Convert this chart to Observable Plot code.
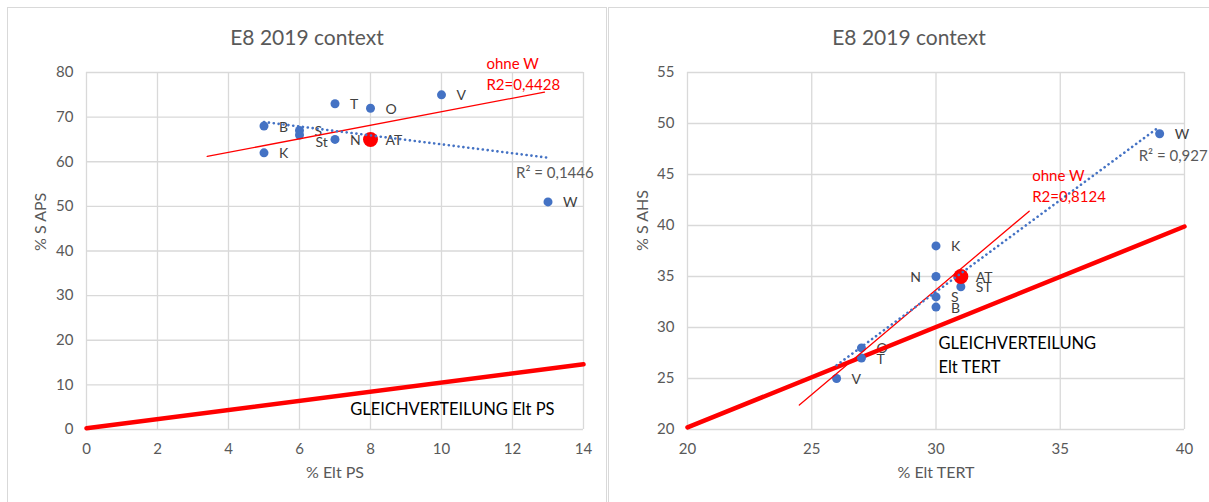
<!DOCTYPE html>
<html><head><meta charset="utf-8">
<script src="https://cdn.jsdelivr.net/npm/d3@7"></script>
<script src="https://cdn.jsdelivr.net/npm/@observablehq/plot@0.6"></script>
<style>
body{margin:0;background:#fff;font-family:Lato,sans-serif;}
#page{position:relative;width:1209px;height:502px;overflow:hidden;background:#fff;}
.panel{position:absolute;box-sizing:border-box;border:1px solid #d9d9d9;}
.title{position:absolute;text-align:center;color:#595959;font-size:21px;line-height:24px;white-space:nowrap;}
.chart{position:absolute;}
</style></head><body><div id="page"></div>
<script>
// ---------- Left chart data: % Elt PS vs % S APS ----------
const namesPS = ["B","K","S","St","T","N","O","AT","V","W"];
const eltPS   = [5, 5, 6, 6, 7, 7, 8, 8, 10, 13];
const sAPS    = [68, 62, 67, 66, 73, 65, 72, 65, 75, 51];
const trendAllPS_x = [5, 13.0];      // blue dotted trend, all points
const trendAllPS_y = [68.9, 60.9];
const trendOhnePS_x = [3.4, 12.9];   // red thin trend, without W
const trendOhnePS_y = [61.2, 75.6];
const gleichPS_x = [0, 14];          // thick red equal-distribution line
const gleichPS_y = [0.3, 14.6];
const xTicksPS = [0, 2, 4, 6, 8, 10, 12, 14];
const yTicksPS = [0, 10, 20, 30, 40, 50, 60, 70, 80];

// ---------- Right chart data: % Elt TERT vs % S AHS ----------
const namesTERT = ["W","K","N","AT","ST","S","B","O","T","V"];
const eltTERT   = [39, 30, 30, 31, 31, 30, 30, 27, 27, 26];
const sAHS      = [49, 38, 35, 35, 34, 33, 32, 28, 27, 25];
const trendAllT_x = [26, 39];
const trendAllT_y = [26.3, 49.7];
const trendOhneT_x = [24.5, 33.75];
const trendOhneT_y = [22.4, 41.4];
const gleichT_x = [20, 40];
const gleichT_y = [20.2, 39.9];
const xTicksT = [20, 25, 30, 35, 40];
const yTicksT = [20, 25, 30, 35, 40, 45, 50, 55];

const title = "E8 2019 context";
const highlight = "AT";

const page = document.getElementById("page");
function addDiv(cls, css, html) {
  const d = document.createElement("div");
  d.className = cls;
  Object.assign(d.style, css);
  if (html) d.textContent = html;
  page.appendChild(d);
  return d;
}

function build(o) {
  const data = o.names.map((n, i) => ({name: n, x: o.xs[i], y: o.ys[i]}));
  const pts = (xs, ys) => xs.map((x, i) => ({x, y: ys[i]}));
  const all = pts(o.allX, o.allY), ohne = pts(o.ohneX, o.ohneY), gl = pts(o.glX, o.glY);
  const grey = "#595959";
  return Plot.plot({
    width: o.width, height: 452,
    marginLeft: o.mL, marginRight: o.mR, marginTop: 22, marginBottom: 73,
    style: {fontFamily: "Lato, sans-serif", fontSize: "15px", color: grey, background: "transparent", overflow: "visible"},
    x: {domain: o.xDomain},
    y: {domain: o.yDomain},
    marks: [
      Plot.gridX({ticks: o.xTicks, stroke: "#d9d9d9", strokeOpacity: 1, strokeWidth: 1.3}),
      Plot.gridY({ticks: o.yTicks, stroke: "#d9d9d9", strokeOpacity: 1, strokeWidth: 1.3}),
      Plot.axisX({ticks: o.xTicks, tickSize: 0, tickPadding: 14, label: null, fill: grey, fontSize: 15}),
      Plot.axisY({ticks: o.yTicks, tickSize: 0, tickPadding: 13, label: null, fill: grey, fontSize: 15}),
      Plot.text([o.yLabel], {text: d => d, frameAnchor: "left", dx: o.yLabelDx, rotate: -90, fill: grey, fontSize: 16}),
      Plot.text([o.xLabel], {text: d => d, frameAnchor: "bottom", dy: 48, fill: grey, fontSize: 16}),
      // point labels
      Plot.text(data.filter(d => !o.leftLabels.includes(d.name) && !o.lowLabels.includes(d.name)),
        {x: "x", y: "y", text: "name", textAnchor: "start", dx: 15, dy: 1, fill: "#404040", fontSize: 14}),
      Plot.text(data.filter(d => o.leftLabels.includes(d.name)),
        {x: "x", y: "y", text: "name", textAnchor: "end", dx: -15, dy: 1, fill: "#404040", fontSize: 14}),
      Plot.text(data.filter(d => o.lowLabels.includes(d.name)),
        {x: "x", y: "y", text: "name", textAnchor: "start", dx: 16, dy: 8, fill: "#404040", fontSize: 14}),
      // equal distribution line
      Plot.line(gl, {x: "x", y: "y", stroke: "#ff0000", strokeWidth: 4.5}),
      Plot.text([o.glText], {text: d => d, frameAnchor: o.glAnchor, textAnchor: o.glTextAnchor, lineAnchor: "middle",
        dx: o.glDx, dy: o.glDy, lineHeight: 1.45, fill: "#000", fontSize: 16.5}),
      // dots
      Plot.dot(data.filter(d => d.name !== highlight), {x: "x", y: "y", r: 4.5, fill: "#4472C4"}),
      Plot.dot(data.filter(d => d.name === highlight), {x: "x", y: "y", r: 7.5, fill: "#ff0000"}),
      // trendlines
      Plot.line(ohne, {x: "x", y: "y", stroke: "#ff0000", strokeWidth: 1.3}),
      Plot.line(all, {x: "x", y: "y", stroke: "#4472C4", strokeWidth: 2.6, strokeDasharray: "0.1,4.8", strokeLinecap: "round"}),
      Plot.text([ohne[1]], {x: "x", y: "y", text: () => o.ohneText, textAnchor: "start", lineAnchor: "middle",
        dx: o.ohneDx, dy: o.ohneDy, lineHeight: 1.4, fill: "#ff0000", fontSize: 15}),
      Plot.text([all[1]], {x: "x", y: "y", text: () => o.allText, textAnchor: "start", lineAnchor: "middle",
        dx: o.allDx, dy: o.allDy, fill: grey, fontSize: 15})
    ]
  });
}

// Left panel
addDiv("panel", {left: "7px", top: "7px", width: "600px", height: "600px"});
addDiv("title", {left: "7px", top: "25px", width: "600px"}, title);
const cL = addDiv("chart", {left: "8px", top: "50px", width: "598px", height: "452px"});
cL.appendChild(build({
  names: namesPS, xs: eltPS, ys: sAPS,
  allX: trendAllPS_x, allY: trendAllPS_y, ohneX: trendOhnePS_x, ohneY: trendOhnePS_y, glX: gleichPS_x, glY: gleichPS_y,
  xDomain: [0, 14], yDomain: [0, 80], xTicks: xTicksPS, yTicks: yTicksPS,
  width: 598, mL: 78, mR: 23,
  xLabel: "% Elt PS", yLabel: "% S APS", yLabelDx: -46,
  leftLabels: [], lowLabels: ["St"],
  glText: "GLEICHVERTEILUNG Elt PS", glAnchor: "bottom-right", glTextAnchor: "end", glDx: -29, glDy: -22,
  ohneText: "ohne W\nR2=0,4428", ohneDx: -58, ohneDy: -19,
  allText: "R² = 0,1446", allDx: -32, allDy: 15
}));

// Right panel
addDiv("panel", {left: "608px", top: "7px", width: "700px", height: "600px"});
addDiv("title", {left: "608px", top: "25px", width: "602px"}, title);
const cR = addDiv("chart", {left: "609px", top: "50px", width: "600px", height: "452px"});
cR.appendChild(build({
  names: namesTERT, xs: eltTERT, ys: sAHS,
  allX: trendAllT_x, allY: trendAllT_y, ohneX: trendOhneT_x, ohneY: trendOhneT_y, glX: gleichT_x, glY: gleichT_y,
  xDomain: [20, 40], yDomain: [20, 55], xTicks: xTicksT, yTicks: yTicksT,
  width: 600, mL: 78, mR: 25,
  xLabel: "% Elt TERT", yLabel: "% S AHS", yLabelDx: -45,
  leftLabels: ["N"], lowLabels: [],
  glText: "GLEICHVERTEILUNG\nElt TERT", glAnchor: "bottom-left", glTextAnchor: "start", glDx: 251, glDy: -76,
  ohneText: "ohne W\nR2=0,8124", ohneDx: 3, ohneDy: -26,
  allText: "R² = 0,927", allDx: -21, allDy: 30
}));
</script></body></html>
